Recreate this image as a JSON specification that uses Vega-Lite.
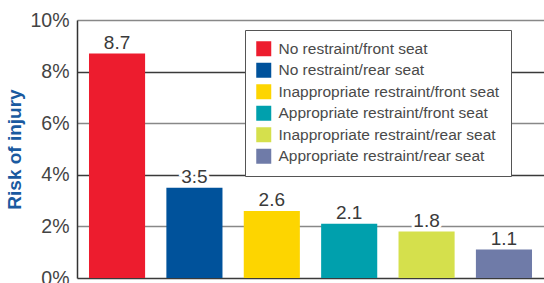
{
  "$schema": "https://vega.github.io/schema/vega-lite/v6.json",
  "width": 467,
  "height": 258,
  "autosize": "none",
  "padding": {"left": 77, "top": 20, "right": 0, "bottom": 5},
  "background": "white",
  "config": {
    "view": {"stroke": null},
    "font": "Liberation Sans"
  },
  "data": {
    "values": [
      {"category": "No restraint/front seat", "risk": 8.7},
      {"category": "No restraint/rear seat", "risk": 3.5},
      {"category": "Inappropriate restraint/front seat", "risk": 2.6},
      {"category": "Appropriate restraint/front seat", "risk": 2.1},
      {"category": "Inappropriate restraint/rear seat", "risk": 1.8},
      {"category": "Appropriate restraint/rear seat", "risk": 1.1}
    ]
  },
  "encoding": {
    "x": {
      "field": "category",
      "type": "nominal",
      "sort": null,
      "scale": {"paddingInner": 0.275, "paddingOuter": 0.155},
      "axis": null
    },
    "y": {
      "field": "risk",
      "type": "quantitative",
      "scale": {"domain": [0, 10], "nice": false},
      "axis": {
        "values": [0, 2, 4, 6, 8, 10],
        "labelExpr": "datum.value + '%'",
        "labelFont": "Liberation Sans",
        "labelFontSize": 19.5,
        "labelColor": "#444444",
        "labelPadding": 8,
        "ticks": false,
        "domainColor": "#333333",
        "domainWidth": 1.5,
        "grid": true,
        "gridWidth": 1.5,
        "gridColor": {"condition": {"test": "datum.value % 4 === 0", "value": "#3a3a3a"}, "value": "#888888"},
        "title": "Risk of injury",
        "titleFont": "Liberation Sans",
        "titleFontWeight": "bold",
        "titleFontSize": 19,
        "titleColor": "#1a5aa0",
        "titlePadding": 5
      }
    }
  },
  "layer": [
    {
      "mark": {"type": "bar"},
      "encoding": {
        "color": {
          "field": "category",
          "type": "nominal",
          "sort": null,
          "scale": {
            "domain": [
              "No restraint/front seat",
              "No restraint/rear seat",
              "Inappropriate restraint/front seat",
              "Appropriate restraint/front seat",
              "Inappropriate restraint/rear seat",
              "Appropriate restraint/rear seat"
            ],
            "range": ["#ed1c2e", "#00529b", "#fdd500", "#00a0ad", "#d5e04c", "#6f7ba8"]
          },
          "legend": {
            "orient": "none",
            "legendX": 168,
            "legendY": 10,
            "title": null,
            "fillColor": "white",
            "strokeColor": "#555555",
            "padding": 11,
            "symbolType": "square",
            "symbolSize": 225,
            "symbolStrokeWidth": 0,
            "symbolOpacity": 1,
            "labelFont": "Liberation Sans",
            "labelFontSize": 15.5,
            "labelColor": "#4a4a4a",
            "labelOffset": 7,
            "labelLimit": 300,
            "rowPadding": 4.5
          }
        }
      }
    },
    {
      "mark": {"type": "text", "baseline": "alphabetic", "dy": -5, "fontSize": 19, "font": "Liberation Sans", "stroke": "white", "strokeWidth": 6, "fill": "white"},
      "encoding": {"text": {"field": "risk", "type": "quantitative", "format": ".1f"}}
    },
    {
      "mark": {"type": "text", "baseline": "alphabetic", "dy": -5, "fontSize": 19, "font": "Liberation Sans", "color": "#3a3a3a"},
      "encoding": {"text": {"field": "risk", "type": "quantitative", "format": ".1f"}}
    }
  ]
}
